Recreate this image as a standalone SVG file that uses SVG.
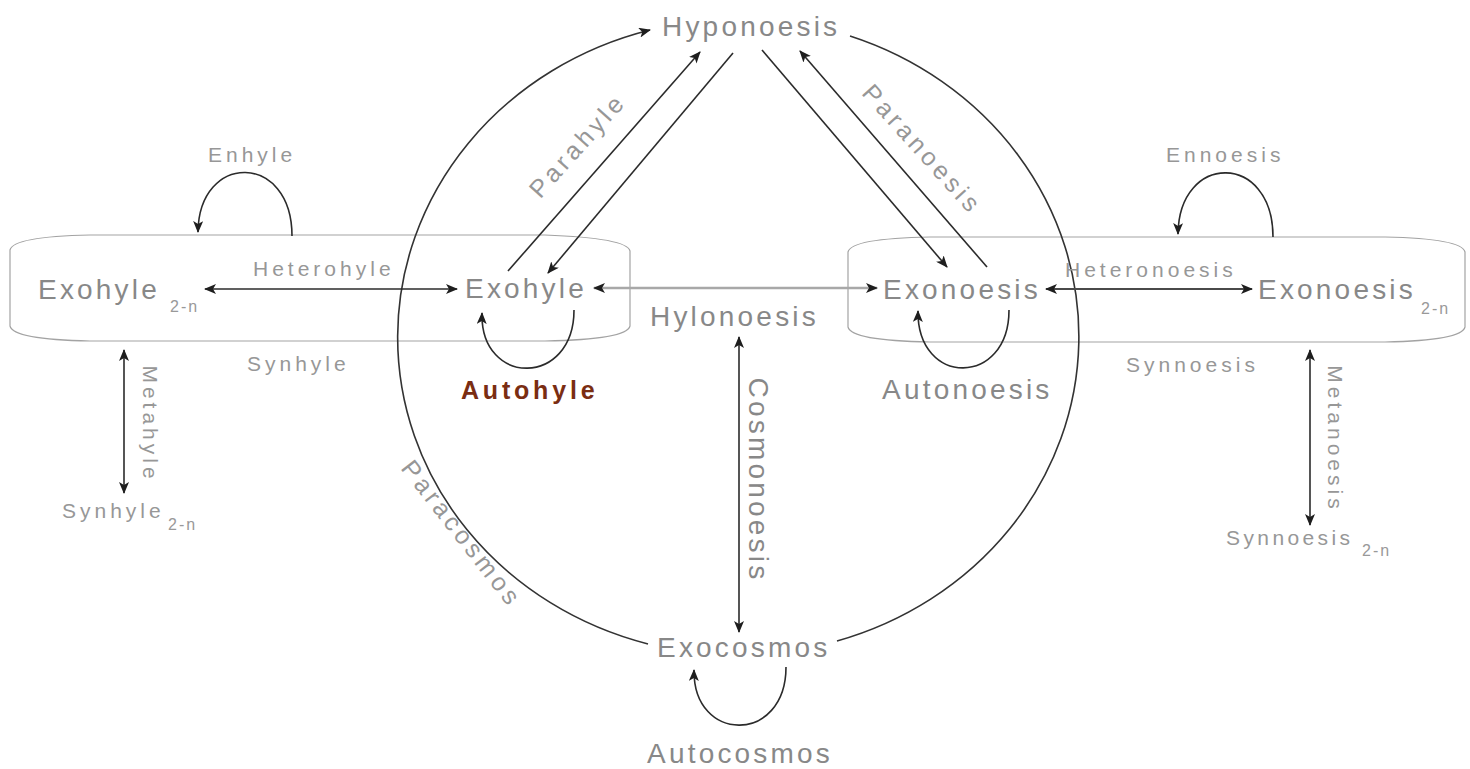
<svg xmlns="http://www.w3.org/2000/svg" width="1470" height="769" viewBox="0 0 1470 769">
  <defs>
    <style>
      text { font-family: "Liberation Sans", Arial, sans-serif; }
      .node { font-size: 28px; fill: #888888; letter-spacing: 3.2px; }
      .lbl { font-size: 21px; fill: #979797; letter-spacing: 4px; }
      .para { font-size: 25px; fill: #979797; letter-spacing: 4px; }
      .sub { font-size: 16px; fill: #999999; letter-spacing: 2px; }
      .auto { font-size: 25px; font-weight: bold; fill: #7a2d12; letter-spacing: 3.8px; }
      .box { fill: none; stroke: #a3a3a3; stroke-width: 1.2; }
      .edge { fill: none; stroke: #2b2b2b; stroke-width: 1.6; }
      .ring { fill: none; stroke: #333333; stroke-width: 1.6; }
      .grey { fill: none; stroke: #a8a8a8; stroke-width: 2.6; }
      .dark { fill: none; stroke: #4a4a4a; stroke-width: 2.2; }
    </style>
    <marker id="ah" viewBox="0 0 12 10" refX="11" refY="5" markerWidth="12" markerHeight="10" orient="auto-start-reverse" markerUnits="userSpaceOnUse">
      <path d="M0,0 L12,5 L0,10 L3,5 Z" fill="#1e1e1e"/>
    </marker>
  </defs>

  <rect width="1470" height="769" fill="#ffffff"/>

  <!-- enclosing outlines of the two levels -->
  <g id="hyle-level">
    <path class="box" d="M90 235 L545 235 C600 237 628 242 630 251 L630 326 C628 335 600 340 545 341 L90 341 C40 340 12 335 10 326 L10 250 C12 241 40 236 90 235 Z"/>
  </g>
  <g id="noesis-level">
    <path class="box" d="M930 237 L1385 237 C1435 238 1463 243 1465 252 L1465 327 C1463 336 1435 341 1385 342 L930 342 C875 341 850 336 848 327 L848 252 C850 243 875 238 930 237 Z"/>
  </g>

  <!-- connectors -->
  <g id="connectors">
    <!-- outer ring: Paracosmos arc on the left, plain arc on the right -->
    <path class="ring" d="M648 644 A340 318 0 0 1 650 30" marker-end="url(#ah)"/>
    <path class="ring" d="M850 36 A340 318 0 0 1 837 641"/>

    <!-- Heterohyle -->
    <line class="edge" x1="205" y1="289" x2="457" y2="289" marker-start="url(#ah)" marker-end="url(#ah)"/>
    <!-- Exohyle to Exonoesis -->
    <line class="grey" x1="594" y1="288" x2="877" y2="288" marker-start="url(#ah)" marker-end="url(#ah)"/>
    <!-- Heteronoesis -->
    <line class="dark" x1="1046" y1="289" x2="1252" y2="289" marker-start="url(#ah)" marker-end="url(#ah)"/>

    <!-- Parahyle pair -->
    <line class="edge" x1="508" y1="271" x2="700" y2="52" marker-end="url(#ah)"/>
    <line class="edge" x1="733" y1="53" x2="548" y2="273" marker-end="url(#ah)"/>
    <!-- Paranoesis pair -->
    <line class="edge" x1="762" y1="50" x2="947" y2="267" marker-end="url(#ah)"/>
    <line class="edge" x1="987" y1="267" x2="800" y2="51" marker-end="url(#ah)"/>

    <!-- self loops -->
    <path class="edge" d="M292 236 C292 152 199 152 198 232" marker-end="url(#ah)"/>
    <path class="edge" d="M1273 237 C1273 152 1179 152 1178 234" marker-end="url(#ah)"/>
    <path class="edge" d="M574 310 C574 387 480 387 482 313" marker-end="url(#ah)"/>
    <path class="edge" d="M1009 310 C1009 387 917 387 918 311" marker-end="url(#ah)"/>
    <path class="edge" d="M786 667 C786 744 693 744 694 670" marker-end="url(#ah)"/>

    <!-- vertical links -->
    <line class="edge" x1="124" y1="350" x2="124" y2="493" marker-start="url(#ah)" marker-end="url(#ah)"/>
    <line class="edge" x1="1310" y1="350" x2="1310" y2="525" marker-start="url(#ah)" marker-end="url(#ah)"/>
    <line class="edge" x1="739" y1="337" x2="739" y2="632" marker-start="url(#ah)" marker-end="url(#ah)"/>

    <!-- connector labels -->
    <text class="lbl" x="208" y="162">Enhyle</text>
    <text class="lbl" x="253" y="276">Heterohyle</text>
    <text class="lbl" x="247" y="371">Synhyle</text>
    <text class="lbl" x="1166" y="162">Ennoesis</text>
    <text class="lbl" x="1065" y="277">Heteronoesis</text>
    <text class="lbl" x="1126" y="372">Synnoesis</text>
    <text class="lbl" text-anchor="middle" transform="translate(143 424) rotate(90)">Metahyle</text>
    <text class="lbl" text-anchor="middle" transform="translate(1328 439) rotate(90)">Metanoesis</text>
    <text class="para" text-anchor="middle" transform="translate(584 151) rotate(-48)">Parahyle</text>
    <text class="para" text-anchor="middle" transform="translate(916 155) rotate(48)">Paranoesis</text>
    <text class="para" text-anchor="middle" transform="translate(455 539) rotate(52)">Paracosmos</text>
    <text class="node" text-anchor="middle" transform="translate(749 480) rotate(90)">Cosmonoesis</text>
    <text class="auto" x="461" y="399">Autohyle</text>
    <text class="node" x="882" y="399">Autonoesis</text>
    <text class="node" x="647" y="763">Autocosmos</text>
  </g>

  <!-- nodes -->
  <g id="hyponoesis">
    <text class="node" x="662" y="36">Hyponoesis</text>
  </g>
  <g id="exohyle-2n">
    <text class="node" x="38" y="299">Exohyle</text>
    <text class="sub" x="170" y="312">2-n</text>
  </g>
  <g id="exohyle">
    <text class="node" x="465" y="298">Exohyle</text>
  </g>
  <g id="hylonoesis">
    <text class="node" x="650" y="326">Hylonoesis</text>
  </g>
  <g id="exonoesis">
    <text class="node" x="883" y="299">Exonoesis</text>
  </g>
  <g id="exonoesis-2n">
    <text class="node" x="1258" y="299">Exonoesis</text>
    <text class="sub" x="1421" y="314">2-n</text>
  </g>
  <g id="synhyle-2n">
    <text class="lbl" x="62" y="518">Synhyle</text>
    <text class="sub" x="168" y="530">2-n</text>
  </g>
  <g id="synnoesis-2n">
    <text class="lbl" x="1226" y="545" style="letter-spacing:3.4px">Synnoesis</text>
    <text class="sub" x="1362" y="556">2-n</text>
  </g>
  <g id="exocosmos">
    <text class="node" x="657" y="657">Exocosmos</text>
  </g>
</svg>
